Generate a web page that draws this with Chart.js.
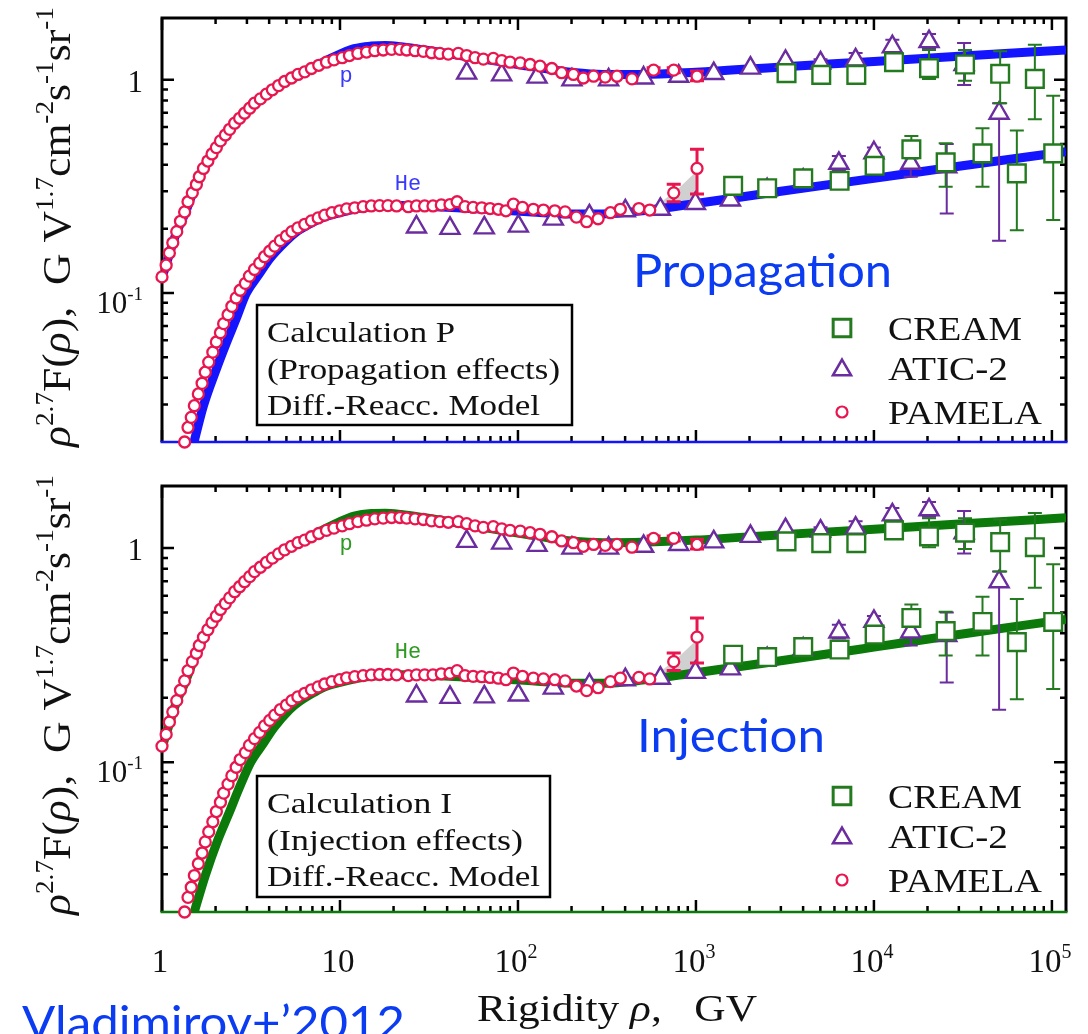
<!DOCTYPE html>
<html>
<head>
<meta charset="utf-8">
<title>p and He rigidity spectra</title>
<script src="https://cdn.jsdelivr.net/npm/chart.js@4.4.1/dist/chart.umd.min.js"></script>
<style>
  html, body { margin: 0; padding: 0; background: #fff; }
  body { width: 1088px; height: 1034px; position: relative; overflow: hidden; }
  canvas { position: absolute; left: 0; }
  #top { top: 0; }
  #bottom { top: 468px; }
</style>
</head>
<body>
<canvas id="top" width="1088" height="468"></canvas>
<canvas id="bottom" width="1088" height="566"></canvas>
<script>
// ---- data ----
const pamelaPX = [1.00, 1.055, 1.10, 1.15, 1.21, 1.27, 1.34, 1.40, 1.48, 1.56, 1.62, 1.71, 1.81, 1.91, 2.02, 2.13, 2.27, 2.40, 2.56, 2.73, 2.91, 3.11, 3.31, 3.57, 3.86, 4.17, 4.52, 4.89, 5.34, 5.81, 6.34, 6.91, 7.6, 8.4, 9.25, 10.3, 11.3, 12.6, 14.1, 15.7, 17.5, 19.5, 21.7, 23.7, 26.4, 29.4, 32.7, 36.4, 40.6, 46.2, 51.5, 57.4, 63.9, 72.7, 81.1, 90.3, 103, 117, 133, 155, 176, 205, 233, 266, 309, 360, 437, 578, 750, 1014];
const pamelaPY = [0.119, 0.135, 0.154, 0.172, 0.194, 0.217, 0.240, 0.268, 0.295, 0.323, 0.351, 0.384, 0.416, 0.449, 0.481, 0.517, 0.551, 0.586, 0.626, 0.660, 0.697, 0.736, 0.777, 0.814, 0.857, 0.898, 0.940, 0.982, 1.02, 1.06, 1.09, 1.13, 1.17, 1.21, 1.24, 1.27, 1.30, 1.33, 1.35, 1.37, 1.38, 1.39, 1.39, 1.38, 1.37, 1.36, 1.34, 1.33, 1.32, 1.33, 1.30, 1.27, 1.25, 1.26, 1.23, 1.21, 1.20, 1.18, 1.16, 1.13, 1.08, 1.06, 1.02, 1.04, 1.03, 1.04, 1.01, 1.11, 1.11, 1.04];
const pamelaPErrX = [578, 750, 1014];
const pamelaPErrLo = [1.08, 1.08, 0.99];
const pamelaPErrHi = [1.14, 1.14, 1.10];

const pamelaHeX = [1.34, 1.40, 1.46, 1.52, 1.60, 1.68, 1.75, 1.83, 1.93, 2.02, 2.13, 2.22, 2.35, 2.47, 2.61, 2.75, 2.94, 3.10, 3.31, 3.54, 3.77, 4.03, 4.30, 4.62, 5.00, 5.37, 5.80, 6.34, 6.91, 7.54, 8.21, 9.02, 9.96, 10.9, 12.1, 13.5, 15.0, 16.7, 18.6, 20.8, 24.2, 26.9, 29.9, 33.3, 37.1, 41.5, 45.5, 50.4, 56.0, 62.6, 69.7, 77.6, 85.6, 94.3, 106, 122, 139, 161, 184, 213, 243, 282, 331, 376, 478, 550, 750, 1014];
const pamelaHeY = [0.0200, 0.0234, 0.0261, 0.0296, 0.0336, 0.0377, 0.0425, 0.0474, 0.0528, 0.0589, 0.0651, 0.0718, 0.0791, 0.0866, 0.0948, 0.103, 0.111, 0.120, 0.129, 0.138, 0.148, 0.157, 0.166, 0.176, 0.185, 0.194, 0.202, 0.210, 0.218, 0.225, 0.232, 0.238, 0.243, 0.248, 0.251, 0.254, 0.256, 0.257, 0.257, 0.256, 0.254, 0.256, 0.256, 0.256, 0.259, 0.260, 0.268, 0.254, 0.252, 0.251, 0.249, 0.247, 0.243, 0.261, 0.252, 0.247, 0.245, 0.243, 0.240, 0.227, 0.216, 0.223, 0.238, 0.247, 0.249, 0.245, 0.295, 0.384];
const pamelaHeErrX = [750, 1014];
const pamelaHeErrLo = [0.268, 0.291];
const pamelaHeErrHi = [0.324, 0.472];

const aticPX = [51.5, 81, 128, 201, 323, 508, 800, 1259, 2024, 3186, 5012, 7888, 12690, 20400, 32100];
const aticPY = [1.075, 1.055, 1.03, 1.00, 1.00, 1.02, 1.04, 1.07, 1.135, 1.22, 1.20, 1.24, 1.43, 1.51, 1.18];
const aticPErrX = [5012, 7888, 12690, 20400, 32100];
const aticPErrLo = [1.16, 1.16, 1.33, 1.40, 0.945];
const aticPErrHi = [1.25, 1.335, 1.54, 1.64, 1.49];

const aticHeX = [26.9, 41.5, 64.7, 100.5, 158, 252, 401, 631, 993, 1562, 2512, 4006, 6353, 10000, 16100, 25650, 50500];
const aticHeY = [0.204, 0.201, 0.202, 0.206, 0.222, 0.230, 0.243, 0.247, 0.263, 0.273, 0.305, 0.338, 0.406, 0.455, 0.406, 0.391, 0.697];
const aticHeErrX = [6353, 10000, 16100, 25650, 50500];
const aticHeErrLo = [0.378, 0.43, 0.351, 0.236, 0.176];
const aticHeErrHi = [0.439, 0.482, 0.44, 0.50, 0.777];

const creamPX = [3228, 5058, 7962, 12970, 20400, 32500, 51200, 80200];
const creamPY = [1.075, 1.055, 1.055, 1.21, 1.135, 1.18, 1.067, 1.01];
const creamPErrX = [20400, 32500, 51200, 80200];
const creamPErrLo = [1.01, 0.99, 0.777, 0.653];
const creamPErrHi = [1.38, 1.38, 1.36, 1.46];

const creamHeX = [1618, 2512, 4006, 6412, 10090, 16230, 25300, 40740, 63530, 101700];
const creamHeY = [0.318, 0.310, 0.345, 0.336, 0.395, 0.472, 0.410, 0.452, 0.364, 0.452];
const creamHeErrX = [16230, 25300, 40740, 63530, 101700];
const creamHeErrLo = [0.428, 0.315, 0.315, 0.197, 0.22];
const creamHeErrHi = [0.545, 0.504, 0.593, 0.578, 0.841];

// model curves (Diff.-Reacc.)
const propPX = [1, 1.1, 1.2, 1.35, 1.5, 1.75, 2, 2.5, 3, 4, 5, 6, 7, 8, 10, 12, 15, 18, 22, 30, 40, 60, 100, 150, 200, 300, 500, 1000, 3000, 10000, 30000, 120000];
const propPY = [0.118, 0.152, 0.19, 0.237, 0.30, 0.397, 0.475, 0.61, 0.715, 0.875, 0.995, 1.075, 1.14, 1.21, 1.32, 1.40, 1.44, 1.45, 1.43, 1.38, 1.33, 1.26, 1.18, 1.12, 1.085, 1.06, 1.06, 1.085, 1.15, 1.22, 1.29, 1.38];
const propHeX = [1.49, 1.71, 2.0, 2.31, 2.6, 2.98, 3.5, 4.03, 5, 5.63, 7, 7.82, 10, 13, 17, 22, 30, 50, 80, 120, 200, 300, 500, 1000, 3000, 10000, 30000, 120000];
const propHeY = [0.019, 0.0296, 0.043, 0.0589, 0.075, 0.100, 0.122, 0.145, 0.176, 0.192, 0.214, 0.224, 0.238, 0.250, 0.256, 0.257, 0.255, 0.250, 0.245, 0.240, 0.235, 0.235, 0.243, 0.263, 0.300, 0.345, 0.393, 0.460];
const injPX = propPX;
const injPY = [0.117, 0.151, 0.189, 0.236, 0.298, 0.395, 0.473, 0.608, 0.713, 0.873, 0.995, 1.078, 1.145, 1.215, 1.33, 1.41, 1.45, 1.455, 1.435, 1.385, 1.335, 1.26, 1.175, 1.115, 1.08, 1.06, 1.065, 1.09, 1.155, 1.225, 1.295, 1.385];
const injHeX = [1.49, 1.75, 2.05, 2.4, 2.7, 3.15, 3.7, 4.25, 5.2, 5.9, 7.3, 8.1, 10, 13, 17, 22, 30, 50, 80, 120, 200, 300, 500, 1000, 3000, 10000, 30000, 120000];
const injHeY = [0.019, 0.0296, 0.043, 0.0589, 0.075, 0.100, 0.122, 0.145, 0.176, 0.192, 0.214, 0.224, 0.236, 0.248, 0.254, 0.256, 0.255, 0.250, 0.245, 0.240, 0.234, 0.234, 0.242, 0.262, 0.298, 0.345, 0.395, 0.465];

// grey systematic bands near 1 TV
const bandX = [480, 750, 1000];
const bandPUp = [1.04, 1.15, 1.12];
const bandPLo = [1.04, 1.06, 1.06];
const bandHeX = [560, 800, 1000];
const bandHeUp = [0.245, 0.31, 0.37];
const bandHeLo = [0.245, 0.255, 0.265];

// axes
const xDecades = [1, 10, 100, 1000, 10000, 100000];
const xLabelBase = ['1', '10', '10', '10', '10', '10'];
const xLabelExp = ['', '', '2', '3', '4', '5'];
const yDecades = [0.01, 0.1, 1];
const yLabelValues = [0.1, 1];
const legendLabels = ['CREAM', 'ATIC-2', 'PAMELA'];

// ---- colours / fonts ----
const BLUE = '#1414ff';
const GREEN = '#0b7a0b';
const CREAM_COL = '#237a1f';
const ATIC_COL = '#6a2c9e';
const PAMELA_COL = '#e8164e';
const NOTE_COL = '#0b3cf2';
const SERIF = "'Liberation Serif', 'Times New Roman', serif";

function pts(xs, ys) {
  return xs.map((x, i) => ({ x: x, y: ys[i] }));
}

function fontOf(style, size) {
  const sup = style.indexOf('s') >= 0;
  const it = style.indexOf('i') >= 0;
  return (it ? 'italic ' : '') + Math.round(sup ? size * 0.62 : size) + 'px ' + SERIF;
}

// draws a run of text pieces ([text, style]) stretched to a given width
function drawRich(ctx, parts, x, y, size, align, width) {
  ctx.save();
  const widths = parts.map(p => { ctx.font = fontOf(p[1], size); return ctx.measureText(p[0]).width; });
  const total = widths.reduce((a, b) => a + b, 0);
  const k = width ? width / total : 1;
  const shown = total * k;
  const x0 = align === 'center' ? x - shown / 2 : (align === 'right' ? x - shown : x);
  ctx.translate(x0, y);
  ctx.scale(k, 1);
  ctx.textAlign = 'left';
  ctx.textBaseline = 'alphabetic';
  let cx = 0;
  parts.forEach((p, i) => {
    ctx.font = fontOf(p[1], size);
    ctx.fillText(p[0], cx, p[1].indexOf('s') >= 0 ? -size * 0.42 : 0);
    cx += widths[i];
  });
  ctx.restore();
}

function drawStretched(ctx, text, x, y, font, width) {
  ctx.save();
  ctx.font = font;
  ctx.textAlign = 'left';
  ctx.textBaseline = 'alphabetic';
  const w = ctx.measureText(text).width;
  ctx.translate(x, y);
  ctx.scale(width / w, 1);
  ctx.fillText(text, 0, 0);
  ctx.restore();
}

function drawMarker(ctx, shape, x, y, r, color, lw) {
  ctx.save();
  ctx.beginPath();
  if (shape === 'rect') {
    const s = r * Math.SQRT1_2;
    ctx.rect(x - s, y - s, 2 * s, 2 * s);
  } else if (shape === 'triangle') {
    for (let i = 0; i < 3; i++) {
      const a = i * 2 * Math.PI / 3;
      const px = x + Math.sin(a) * r, py = y - Math.cos(a) * r;
      if (i === 0) ctx.moveTo(px, py); else ctx.lineTo(px, py);
    }
    ctx.closePath();
  } else {
    ctx.arc(x, y, r, 0, Math.PI * 2);
  }
  ctx.fillStyle = '#fff';
  ctx.fill();
  ctx.lineWidth = lw;
  ctx.strokeStyle = color;
  ctx.stroke();
  ctx.restore();
}

function drawFrame(chart, cfg) {
  const { ctx, chartArea: a, scales } = chart;
  const x = scales.x, y = scales.y;
  ctx.save();
  ctx.strokeStyle = '#000';
  ctx.lineWidth = 2.5;
  ctx.beginPath();
  xDecades.forEach(d => {
    for (let m = 1; m <= 9; m++) {
      const v = d * m;
      if (v < x.min || v > x.max) continue;
      const px = x.getPixelForValue(v);
      const len = m === 1 ? 12 : 6;
      ctx.moveTo(px, a.top); ctx.lineTo(px, a.top + len);
      ctx.moveTo(px, a.bottom); ctx.lineTo(px, a.bottom - len);
    }
  });
  yDecades.forEach(d => {
    for (let m = 1; m <= 9; m++) {
      const v = d * m;
      if (v <= y.min * 1.001 || v > y.max) continue;
      const py = y.getPixelForValue(v);
      const len = m === 1 ? 12 : 6;
      ctx.moveTo(a.left, py); ctx.lineTo(a.left + len, py);
      ctx.moveTo(a.right, py); ctx.lineTo(a.right - len, py);
    }
  });
  ctx.stroke();
  ctx.lineWidth = 3;
  ctx.beginPath();
  ctx.moveTo(a.left, a.bottom); ctx.lineTo(a.left, a.top);
  ctx.lineTo(a.right, a.top); ctx.lineTo(a.right, a.bottom);
  ctx.stroke();
  ctx.strokeStyle = cfg.color;
  ctx.lineWidth = 2.5;
  ctx.beginPath();
  ctx.moveTo(a.left - 1.5, a.bottom); ctx.lineTo(a.right + 1.5, a.bottom);
  ctx.stroke();
  ctx.restore();
}

function drawAxisText(chart, cfg) {
  const { ctx, chartArea: a, scales } = chart;
  const x = scales.x, y = scales.y;
  ctx.save();
  ctx.fillStyle = '#111';
  // y tick labels
  yLabelValues.forEach(v => {
    const py = y.getPixelForValue(v);
    if (v === 1) {
      drawRich(ctx, [['1', 'n']], 143, py + 12, 31, 'right');
    } else {
      drawRich(ctx, [['10', 'n'], ['-1', 's']], 143, py + 20, 31, 'right');
    }
  });
  // y title, rotated
  ctx.save();
  ctx.translate(70, a.top + 209);
  ctx.rotate(-Math.PI / 2);
  drawRich(ctx, [['ρ', 'i'], ['2.7', 's'], ['F(', 'n'], ['ρ', 'i'], ['),  G V', 'n'], ['1.7', 's'],
    ['cm', 'n'], ['-2', 's'], ['s', 'n'], ['-1', 's'], ['sr', 'n'], ['-1', 's']], 0, 0, 40, 'center', 440);
  ctx.restore();
  // x tick labels and title on the lower panel only
  if (cfg.xLabels) {
    xDecades.forEach((d, i) => {
      const px = x.getPixelForValue(d);
      const parts = [[xLabelBase[i], 'n']];
      if (xLabelExp[i]) parts.push([xLabelExp[i], 's']);
      drawRich(ctx, parts, px - 2, a.bottom + 60, 33, 'center');
    });
    drawRich(ctx, [['Rigidity ', 'n'], ['ρ', 'i'], [',   GV', 'n']], 477, a.bottom + 109, 37, 'left', 280);
  }
  ctx.restore();
}

function drawErrors(chart, index) {
  const ds = chart.data.datasets[index];
  if (!ds.err) return;
  const { ctx, scales } = chart;
  const x = scales.x, y = scales.y;
  ctx.save();
  ctx.strokeStyle = ds.borderColor;
  ctx.lineWidth = ds.errWidth || 2;
  ctx.beginPath();
  ds.err.x.forEach((xv, i) => {
    const px = x.getPixelForValue(xv);
    const lo = y.getPixelForValue(ds.err.lo[i]);
    const hi = y.getPixelForValue(ds.err.hi[i]);
    const c = ds.capHalf || 7;
    ctx.moveTo(px, lo); ctx.lineTo(px, hi);
    ctx.moveTo(px - c, lo); ctx.lineTo(px + c, lo);
    ctx.moveTo(px - c, hi); ctx.lineTo(px + c, hi);
  });
  ctx.stroke();
  ctx.restore();
}

function drawOverlay(chart, cfg) {
  const { ctx, chartArea: a } = chart;
  ctx.save();
  // text box
  const b = cfg.box;
  ctx.fillStyle = '#fff';
  ctx.fillRect(b.x, a.top + b.y, b.w, b.h);
  ctx.strokeStyle = '#000';
  ctx.lineWidth = 2.5;
  ctx.strokeRect(b.x, a.top + b.y, b.w, b.h);
  ctx.fillStyle = '#111';
  b.lines.forEach((t, i) => {
    drawStretched(ctx, t, b.x + 10, a.top + b.y + 37 + i * 36.5, '30px ' + SERIF, b.widths[i]);
  });
  // legend
  const shapes = [['rect', CREAM_COL, 12.5, 3], ['triangle', ATIC_COL, 10.5, 2.5], ['circle', PAMELA_COL, 5.5, 2.2]];
  const rowY = [310, 350, 394];
  const rowW = [134, 120, 154];
  legendLabels.forEach((t, i) => {
    const yy = a.top + rowY[i];
    const s = shapes[i];
    drawMarker(ctx, s[0], 842, yy + (s[0] === 'triangle' ? 2 : 0), s[2], s[1], s[3]);
    ctx.fillStyle = '#111';
    drawStretched(ctx, t, 888, yy + 12, '33px ' + SERIF, rowW[i]);
  });
  // curve tags
  ctx.fillStyle = cfg.tagColor;
  ctx.font = "22px 'Liberation Mono', 'DejaVu Sans Mono', monospace";
  ctx.textAlign = 'center';
  ctx.textBaseline = 'middle';
  ctx.fillText('p', 346, a.top + 58);
  ctx.fillText('He', 408, a.top + 166);
  // blue annotation
  ctx.fillStyle = NOTE_COL;
  drawStretched(ctx, cfg.note.text, cfg.note.x, cfg.note.y, "46px Lato, 'Open Sans', sans-serif", cfg.note.w);
  if (cfg.credit) {
    drawStretched(ctx, cfg.credit.text, cfg.credit.x, cfg.credit.y, "46px Lato, 'Open Sans', sans-serif", cfg.credit.w);
  }
  ctx.restore();
}

function panelPlugin(cfg) {
  return {
    id: 'panel_' + cfg.id,
    beforeDatasetsDraw(chart) { drawFrame(chart, cfg); drawAxisText(chart, cfg); },
    beforeDatasetDraw(chart, args) { drawErrors(chart, args.index); },
    afterDatasetsDraw(chart) { drawOverlay(chart, cfg); }
  };
}

function band(xs, ys, fill) {
  return { data: pts(xs, ys), fill: fill, backgroundColor: 'rgba(150,150,150,0.45)', borderWidth: 0,
    pointRadius: 0, tension: 0, order: 20 };
}

function model(xs, ys, color) {
  return { data: pts(xs, ys), borderColor: color, borderWidth: 9, pointRadius: 0, fill: false,
    cubicInterpolationMode: 'monotone', borderCapStyle: 'butt', clip: 0, order: 10 };
}

function marks(xs, ys, ex, elo, ehi, style, r, color, bw, order) {
  return { data: pts(xs, ys), showLine: false, pointStyle: style, pointRadius: r, pointBorderWidth: bw,
    pointBorderColor: color, pointBackgroundColor: '#fff', borderColor: color, clip: false, order: order,
    err: { x: ex, lo: elo, hi: ehi }, errWidth: style === 'circle' ? 3 : 2, capHalf: 7 };
}

function makePanel(cfg) {
  const datasets = [
    band(bandX, bandPUp, '+1'), band(bandX, bandPLo, false),
    band(bandHeX, bandHeUp, '+1'), band(bandHeX, bandHeLo, false),
    model(cfg.pX, cfg.pY, cfg.color), model(cfg.heX, cfg.heY, cfg.color),
    marks(aticPX, aticPY, aticPErrX, aticPErrLo, aticPErrHi, 'triangle', 11, ATIC_COL, 2.4, 3),
    marks(aticHeX, aticHeY, aticHeErrX, aticHeErrLo, aticHeErrHi, 'triangle', 11, ATIC_COL, 2.4, 3),
    marks(creamPX, creamPY, creamPErrX, creamPErrLo, creamPErrHi, 'rect', 12.5, CREAM_COL, 2.4, 2),
    marks(creamHeX, creamHeY, creamHeErrX, creamHeErrLo, creamHeErrHi, 'rect', 12.5, CREAM_COL, 2.4, 2),
    marks(pamelaPX, pamelaPY, pamelaPErrX, pamelaPErrLo, pamelaPErrHi, 'circle', 5.5, PAMELA_COL, 2.3, 1),
    marks(pamelaHeX, pamelaHeY, pamelaHeErrX, pamelaHeErrLo, pamelaHeErrHi, 'circle', 5.5, PAMELA_COL, 2.3, 1)
  ];
  new Chart(document.getElementById(cfg.id), {
    type: 'line',
    data: { datasets: datasets },
    options: {
      responsive: false,
      animation: false,
      devicePixelRatio: 1,
      events: [],
      layout: { padding: { left: 162, top: 18, right: 22, bottom: cfg.padBottom } },
      plugins: { legend: { display: false }, tooltip: { enabled: false } },
      scales: {
        x: { type: 'logarithmic', min: 1, max: 1.2e5, display: false },
        y: { type: 'logarithmic', min: 0.02, max: 1.95, display: false }
      }
    },
    plugins: [panelPlugin(cfg)]
  });
}

makePanel({
  id: 'top', color: BLUE, tagColor: '#3a3aff', padBottom: 26, xLabels: false,
  pX: propPX, pY: propPY, heX: propHeX, heY: propHeY,
  box: { x: 257, y: 287, w: 315, h: 120, lines: ['Calculation P', '(Propagation effects)', 'Diff.-Reacc. Model'], widths: [188, 293, 273] },
  note: { text: 'Propagation', x: 633, y: 287, w: 259 }
});

makePanel({
  id: 'bottom', color: GREEN, tagColor: '#2f9a22', padBottom: 122, xLabels: true,
  pX: injPX, pY: injPY, heX: injHeX, heY: injHeY,
  box: { x: 257, y: 290, w: 293, h: 121, lines: ['Calculation I', '(Injection effects)', 'Diff.-Reacc. Model'], widths: [185, 256, 273] },
  note: { text: 'Injection', x: 637, y: 284, w: 188 },
  credit: { text: 'Vladimirov+’2012', x: 22, y: 571, w: 383 }
});
</script>
</body>
</html>
